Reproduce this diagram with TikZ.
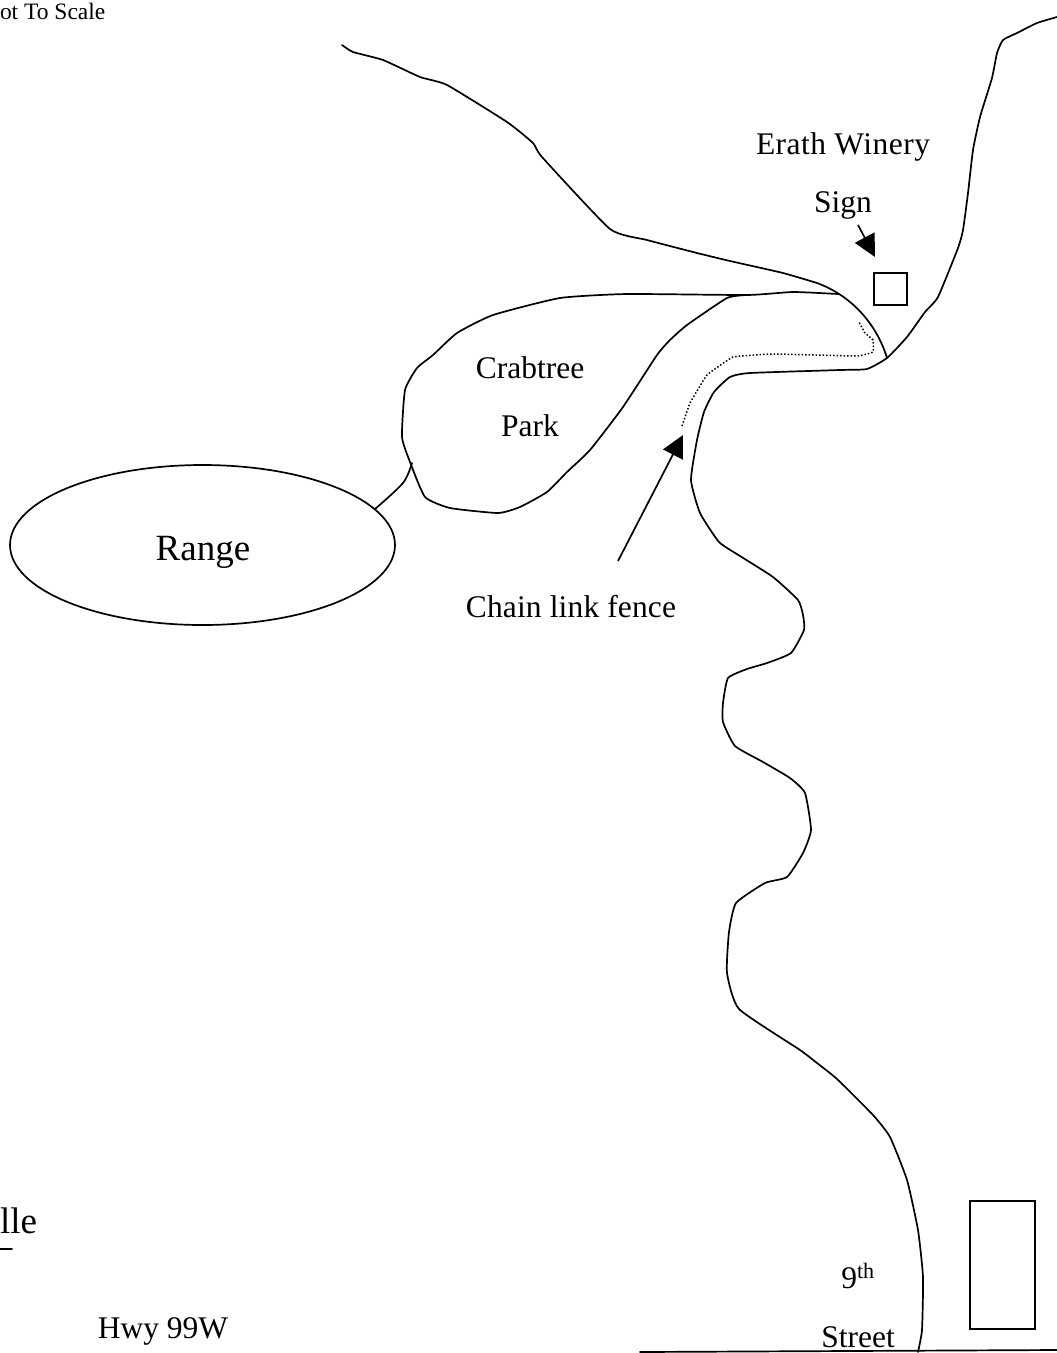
\documentclass[tikz,border=0pt]{standalone}
\usepackage{fontspec}
\setmainfont{Liberation Serif}
\usetikzlibrary{arrows.meta,shapes.geometric}
\tikzset{
  road/.style={line width=1.7pt,line join=round,line cap=round},
  fence/.style={line width=1.5pt,dotted},
  pointer/.style={line width=1.7pt,-{Triangle[length=22pt,width=22pt]}},
  lab/.style={anchor=base,inner sep=0pt,outer sep=0pt,font=\fontsize{31.5}{36}\selectfont},
  boxy/.style={draw,line width=1.7pt,inner sep=0pt}
}
\begin{document}
\begin{tikzpicture}[x=1pt,y=-1pt]
\useasboundingbox (0,0) rectangle (1057,1353);
% roads
\draw[road] plot[smooth,tension=0.3] coordinates {(342,45) (353,52) (383,60) (420,77) (447,85) (507,122) (533,143) (542,157) (610,229) (647,240) (697,253) (730,261) (783,273) (817,283)} .. controls (855,297) and (878,328) .. (887,358);
\draw[road] plot[smooth,tension=0.3] coordinates {(1057,17) (1037,23) (1017,33) (1003,40) (997,53) (992,78) (980,117) (973,150) (968,193) (963,230) (958,248) (938,297) (925,312) (907,337) (887,358) (867,369) (840,370) (750,373) (730,377) (714,392) (704,412) (697,440) (691,480) (700,513) (719,542) (740,556) (773,577) (798,600) (803,615) (804,630) (791,653) (767,663) (747,669) (728,678) (723,703) (723,722) (735,746) (763,762) (790,778) (805,793) (811,830) (803,853) (787,877) (765,883) (736,903) (729,932) (727,973) (739,1009) (800,1050) (817,1063) (837,1079) (873,1115) (890,1137) (907,1180) (918,1230) (923,1277) (922,1330) (918,1352)};
\draw[road] plot[smooth,tension=0.3] coordinates {(838,294) (793,292) (747,295) (627,294) (560,298) (493,315) (457,333) (433,355) (417,368) (405,390) (402,437) (410,462) (425,497) (450,508) (498,513) (520,507) (547,492) (567,472) (590,450) (623,407) (657,355) (670,340) (687,325) (727,298) (747,295)};
\draw[road] (640,1352) -- (1057,1350);
\draw[road] (0,1249) -- (12,1249);
% range
\node[draw,ellipse,line width=1.7pt,minimum width=385pt,minimum height=160pt,inner sep=0pt] (range) at (202.5,545) {};
\coordinate (parkjoin) at (412,463);
\coordinate (rangejoin) at (375,509);
\draw[road] plot[smooth,tension=0.5] coordinates {(parkjoin) (403,483) (rangejoin)};
% fence
\draw[fence] plot[smooth,tension=0.15] coordinates {(682,426) (690,403) (707,375) (733,357) (773,354) (857,356) (873,352) (873,340) (865,333) (859,322)};
% boxes
\node[boxy,minimum width=33pt,minimum height=32pt] (signbox) at (890.5,289) {};
\node[boxy,minimum width=65pt,minimum height=128pt] (building) at (1002.5,1265) {};
% labels
\node[lab] (erath) at (843,154) {\addfontfeatures{LetterSpace=1.5}Erath Winery};
\node[lab] (sign) at (843,212) {Sign};
\node[lab] (crab) at (530,378) {Crabtree};
\node[lab] (park) at (530,436) {Park};
\node[lab,font=\fontsize{37}{44}\selectfont] (rangelab) at (203,560) {Range};
\node[lab] (chain) at (571,617) {\addfontfeatures{LetterSpace=0.5}Chain link fence};
\node[lab] (hwy) at (163,1338) {Hwy 99W};
\node[lab] (nine) at (858,1288) {9\textsuperscript{th}};
\node[lab] (street) at (858,1347) {Street};
\node[lab,font=\fontsize{37}{44}\selectfont,anchor=base west] (lle) at (0,1233) {lle};
\node[lab,font=\fontsize{23.5}{28}\selectfont,anchor=base west] (scale) at (0,19) {ot To Scale};
% pointers
\coordinate (fa) at (618,561); \coordinate (fb) at (683,435);
\draw[pointer] (fa) -- (fb);
\coordinate (sa) at (858,225); \coordinate (sb) at (875,257);
\draw[pointer] (sa) -- (sb);
\end{tikzpicture}
\end{document}
